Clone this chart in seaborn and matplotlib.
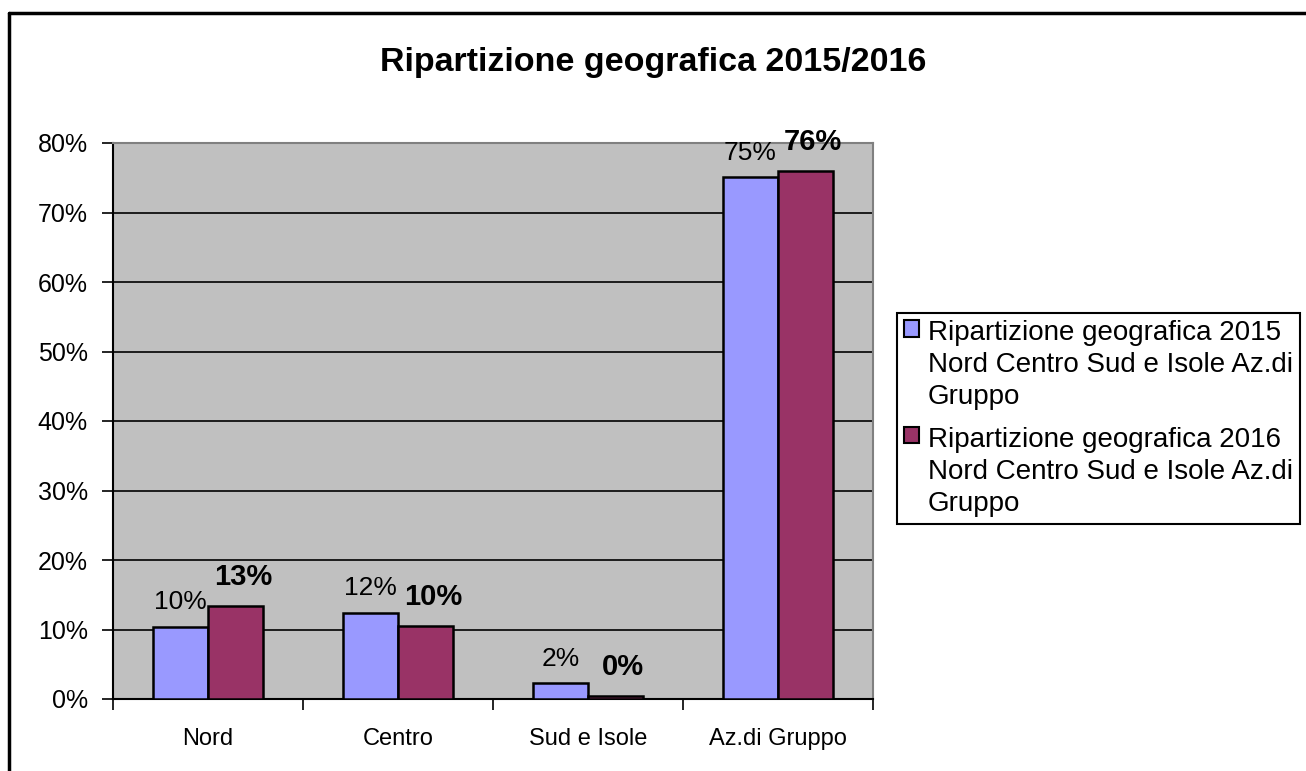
import matplotlib
matplotlib.use("Agg")
import matplotlib.pyplot as plt
from matplotlib.lines import Line2D
from matplotlib.ticker import FixedLocator, PercentFormatter
import pandas as pd
import seaborn as sns

# ----
# DATA
# ----
categories = ["Nord", "Centro", "Sud e Isole", "Az.di Gruppo"]
values_2015 = [10.4, 12.4, 2.3, 75.1]
values_2016 = [13.4, 10.5, 0.45, 76.0]
labels_2015 = ["10%", "12%", "2%", "75%"]
labels_2016 = ["13%", "10%", "0%", "76%"]
series_names = [
    "Ripartizione geografica 2015\nNord Centro Sud e Isole Az.di\nGruppo",
    "Ripartizione geografica 2016\nNord Centro Sud e Isole Az.di\nGruppo",
]
title = "Ripartizione geografica 2015/2016"

df = pd.DataFrame({
    "zona": categories * 2,
    "quota": values_2015 + values_2016,
    "serie": [series_names[0]] * 4 + [series_names[1]] * 4,
})

sns.set_style("white")
plt.rcParams["font.family"] = ["Liberation Sans", "DejaVu Sans"]
plt.rcParams["text.color"] = "black"
plt.rcParams["xtick.color"] = "black"
plt.rcParams["ytick.color"] = "black"
plt.rcParams["axes.labelcolor"] = "black"

W, H = 1306, 771
fig = plt.figure(figsize=(W / 100, H / 100), dpi=100)
ax = fig.add_axes([113 / W, 1 - 699 / H, (873 - 113) / W, (699 - 143) / H])

sns.barplot(data=df, x="zona", y="quota", hue="serie",
            palette=["#9999FF", "#993366"], width=0.58,
            edgecolor="black", linewidth=1.8, saturation=1,
            ax=ax, legend=True, zorder=3)

ax.set_facecolor("#C0C0C0")
ax.set_ylim(0, 80)
ax.set_xlim(-0.5, 3.5)
ax.yaxis.set_major_locator(FixedLocator(range(0, 81, 10)))
ax.yaxis.set_major_formatter(PercentFormatter(decimals=0))
ax.grid(axis="y", color="black", linewidth=1.2, zorder=1)
ax.set_axisbelow(True)
ax.set_xlabel("")
ax.set_ylabel("")

for side in ["top", "right"]:
    ax.spines[side].set_color("#808080")
    ax.spines[side].set_linewidth(1.5)
for side in ["left", "bottom"]:
    ax.spines[side].set_color("black")
    ax.spines[side].set_linewidth(1.5)

ax.tick_params(axis="y", which="major", direction="out", length=8,
               width=1.2, color="black", labelsize=18, left=True, pad=10)
ax.tick_params(axis="x", which="major", length=0, labelsize=17, pad=21)
ax.xaxis.set_minor_locator(FixedLocator([-0.5, 0.5, 1.5, 2.5, 3.5]))
ax.tick_params(axis="x", which="minor", direction="out", length=8,
               width=1.2, color="black", bottom=True)

# data labels
bars_2015, bars_2016 = ax.containers[0], ax.containers[1]
for bar, txt in zip(bars_2015, labels_2015):
    ax.annotate(txt, (bar.get_x() + bar.get_width() / 2, bar.get_height()),
                xytext=(0, 9), textcoords="offset points",
                ha="center", va="bottom", fontsize=19, zorder=5)
for bar, txt in zip(bars_2016, labels_2016):
    ax.annotate(txt, (bar.get_x() + bar.get_width() / 2 + 0.04, bar.get_height()),
                xytext=(0, 11), textcoords="offset points",
                ha="center", va="bottom", fontsize=21, fontweight="bold", zorder=5)

# legend on the right, like the Excel chart
handles, labels = ax.get_legend_handles_labels()
ax.get_legend().remove()
leg = fig.legend(handles, labels, loc="upper left",
                 bbox_to_anchor=(897 / W, 1 - 313 / H),
                 fontsize=20, frameon=True, fancybox=False,
                 edgecolor="black", framealpha=1,
                 handlelength=0.55, handleheight=0.55, handletextpad=0.3,
                 borderpad=0.25, labelspacing=0.6, borderaxespad=0)
leg.get_frame().set_linewidth(1.5)
for t in leg.get_texts():
    t.set_linespacing(1.3)
for h in leg.legend_handles:
    h.set_edgecolor("black")
    h.set_linewidth(1.5)
# put the colour square next to the first line of each entry
for column in leg._legend_handle_box.get_children():
    for row in column.get_children():
        row.align = "top"

fig.suptitle(title, x=0.5, y=1 - 62 / H, va="center",
             fontsize=24.5, fontweight="bold")

# outer chart frame (only top and left edges are visible)
fig.add_artist(Line2D([9 / W, 9 / W], [0, 1 - 13 / H], color="black",
                      linewidth=2.5, transform=fig.transFigure))
fig.add_artist(Line2D([9 / W, 1], [1 - 13 / H, 1 - 13 / H], color="black",
                      linewidth=2.5, transform=fig.transFigure))

fig.savefig("out.png", dpi=100)
